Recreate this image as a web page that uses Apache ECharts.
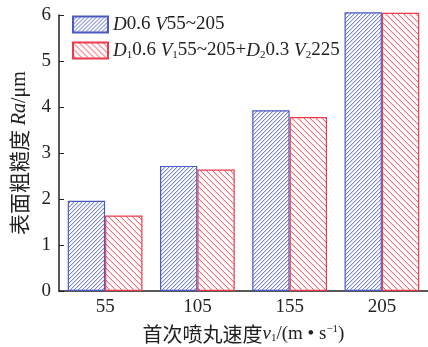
<!DOCTYPE html>
<html>
<head>
<meta charset="utf-8">
<script src="https://cdn.jsdelivr.net/npm/echarts@6/dist/echarts.min.js"></script>
<style>
  html, body { margin: 0; padding: 0; background: #fff; }
  #chart { width: 428px; height: 347px; }
</style>
</head>
<body>
<div id="chart"></div>
<script>
// Initial shot-peening speed categories (m/s)
const speeds = ['55', '105', '155', '205'];
// Surface roughness Ra (μm)
const singlePeen = [1.96, 2.72, 3.93, 6.06];
const doublePeen = [1.64, 2.64, 3.78, 6.05];
const yTicks = [0, 1, 2, 3, 4, 5, 6];

const BLUE = '#4a5ac0';
const RED = '#ee3a4a';
const SERIF = 'Liberation Serif';
const CJK = 'Noto Sans CJK SC';
const INK = '#222';

// Hatch tile: 1px diagonal stripes with a soft edge on white ('/' when forward, '\' otherwise)
function hatch(core, edge, size, forward) {
  const c = document.createElement('canvas');
  c.width = size; c.height = size;
  const g = c.getContext('2d');
  g.fillStyle = '#ffffff';
  g.fillRect(0, 0, size, size);
  for (let x = 0; x < size; x++) {
    const y = forward ? size - 1 - x : x;
    g.fillStyle = edge;
    g.fillRect(x, (y + 1) % size, 1, 1);
    g.fillStyle = core;
    g.fillRect(x, y, 1, 1);
  }
  return { image: c, repeat: 'repeat' };
}

const FS = 19;
const rich = {
  i: { fontFamily: SERIF, fontStyle: 'italic', fontSize: FS, color: INK },
  n: { fontFamily: SERIF, fontSize: FS, color: INK },
  s: { fontFamily: SERIF, fontSize: 11, color: INK, verticalAlign: 'bottom', padding: [9, 0, 0, 0] }
};
const legendText = {
  'single': '{i|D}{n|0.6 }{i|V}{n|55~205}',
  'double': '{i|D}{s|1}{n|0.6 }{i|V}{s|1}{n|55~205+}{i|D}{s|2}{n|0.3 }{i|V}{s|2}{n|225}'
};

const chart = echarts.init(document.getElementById('chart'), null, { renderer: 'canvas' });
chart.setOption({
  animation: false,
  backgroundColor: '#fff',
  grid: { left: 59, right: 0, top: 15, bottom: 56, containLabel: false, outerBoundsMode: 'none' },
  legend: {
    orient: 'vertical',
    left: 67, top: 10,
    icon: 'rect',
    itemWidth: 35, itemHeight: 16, itemGap: 7,
    textStyle: { rich: rich },
    formatter: name => legendText[name],
    data: ['single', 'double']
  },
  xAxis: {
    type: 'category',
    data: speeds,
    name: '{c|首次喷丸速度}{i|v}{s|1}{n|/(m • s}{u|−1}{n|)}',
    nameLocation: 'middle',
    nameGap: 33,
    nameTextStyle: {
      rich: {
        c: { fontFamily: CJK, fontSize: 20, color: INK },
        i: { fontFamily: SERIF, fontStyle: 'italic', fontSize: FS, color: INK },
        s: { fontFamily: SERIF, fontSize: 11, color: INK, verticalAlign: 'bottom', padding: [9, 0, 0, 0] },
        u: { fontFamily: SERIF, fontSize: 11, color: INK, verticalAlign: 'top', padding: [0, 0, 9, 0] },
        n: { fontFamily: SERIF, fontSize: FS, color: INK }
      }
    },
    axisLine: { lineStyle: { color: INK, width: 1.5 } },
    axisTick: { inside: true, alignWithLabel: true, length: 5, lineStyle: { color: INK } },
    axisLabel: { fontFamily: SERIF, fontSize: FS, color: INK, margin: 7 }
  },
  yAxis: {
    type: 'value',
    min: 0, max: 6, interval: 1,
    name: '{c|表面粗糙度 }{i|Ra}{n|/μm}',
    nameLocation: 'middle',
    nameGap: 29,
    nameRotate: 90,
    nameTextStyle: {
      rich: {
        c: { fontFamily: CJK, fontSize: 21, color: INK },
        i: { fontFamily: SERIF, fontStyle: 'italic', fontSize: 20, color: INK },
        n: { fontFamily: SERIF, fontSize: 20, color: INK }
      }
    },
    splitLine: { show: false },
    axisLine: { show: true, lineStyle: { color: INK, width: 1.5 } },
    axisTick: { show: true, inside: true, length: 5, lineStyle: { color: INK } },
    axisLabel: {
      fontFamily: SERIF, fontSize: FS, color: INK, margin: 8,
      formatter: v => (yTicks.indexOf(v) >= 0 ? String(v) : '')
    }
  },
  series: [
    {
      name: 'single',
      type: 'bar',
      data: singlePeen,
      clip: false,
      barGap: '0%',
      barCategoryGap: '19%',
      itemStyle: { color: hatch('#7e8bd8', '#d3d8f4', 4, true), borderColor: BLUE, borderWidth: 1.2 }
    },
    {
      name: 'double',
      type: 'bar',
      data: doublePeen,
      clip: false,
      barGap: '0%',
      barCategoryGap: '19%',
      itemStyle: { color: hatch('#f2707c', '#fbd0d4', 6, false), borderColor: RED, borderWidth: 1.2 }
    }
  ]
});
</script>
</body>
</html>
